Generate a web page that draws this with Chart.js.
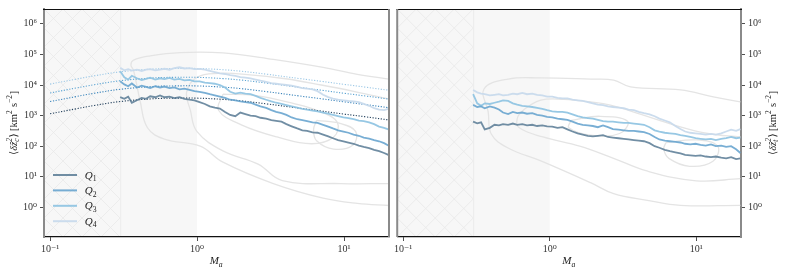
<!DOCTYPE html>
<html>
<head>
<meta charset="utf-8">
<script src="https://cdn.jsdelivr.net/npm/chart.js@4"></script>
<style>
  html, body { margin: 0; padding: 0; background: #fff; }
  #wrap { position: relative; width: 785px; height: 274px; }
  canvas { position: absolute; top: 0; }
  #c1 { left: 0; }
  #c2 { left: 392px; }
</style>
</head>
<body>
<div id="wrap">
  <canvas id="c1" width="392" height="274"></canvas>
  <canvas id="c2" width="393" height="274"></canvas>
</div>
<script>
// -----------------------------
// Data
// -----------------------------
const maValues = [0.30, 0.32, 0.34, 0.36, 0.39, 0.42, 0.45, 0.48, 0.52, 0.56, 0.60, 0.65, 0.70, 0.76, 0.82, 0.89, 0.96, 1.04, 1.13, 1.22, 1.32, 1.43, 1.55, 1.68, 1.82, 1.97, 2.13, 2.31, 2.5, 2.7, 2.95, 3.2, 3.45, 3.75, 4.05, 4.4, 4.8, 5.2, 5.6, 6.1, 6.6, 7.2, 7.8, 8.4, 9.1, 9.9, 10.7, 11.6, 12.6, 13.6, 14.8, 16.0, 17.3, 18.7, 20.0];

// left panel, <dz_c^2> running medians per quartile
const leftQ1 = [4000, 3550, 4170, 2630, 3160, 3800, 3550, 4270, 3980, 4570, 3980, 4170, 3720, 3980, 3550, 3310, 3160, 2750, 2400, 2000, 1820, 1700, 1320, 1050, 955, 1260, 1120, 1000, 955, 850, 794, 708, 676, 631, 525, 447, 380, 331, 316, 282, 275, 240, 209, 182, 158, 145, 132, 120, 105, 95, 87, 76, 69, 60, 52];
const leftQ2 = [13200, 10500, 9100, 11200, 8300, 9500, 8700, 7900, 9100, 8300, 8900, 7900, 8300, 7200, 7600, 6900, 6300, 6000, 5500, 5000, 4600, 4200, 3800, 3300, 3160, 2900, 2750, 2630, 2290, 2000, 1780, 1510, 1320, 1200, 1050, 870, 760, 710, 660, 600, 575, 500, 437, 380, 331, 302, 275, 240, 219, 191, 178, 158, 145, 126, 105];
const leftQ3 = [28200, 17800, 15100, 20000, 16600, 14500, 15800, 17400, 15100, 16600, 15500, 17000, 15100, 15800, 14100, 14800, 13200, 13200, 12000, 11500, 11000, 10000, 8300, 6000, 5200, 5600, 5200, 5000, 4400, 3800, 3300, 2900, 2630, 2400, 2190, 2000, 1820, 1660, 1580, 1450, 1380, 1260, 1150, 1050, 955, 870, 830, 760, 690, 660, 600, 525, 437, 398, 355];
const leftQ4 = [36300, 30200, 33100, 29500, 31600, 28800, 31600, 33100, 30200, 31600, 33900, 31600, 35500, 38000, 34700, 35500, 33100, 33900, 31600, 28800, 26300, 24000, 22900, 20900, 20000, 18200, 17400, 16600, 15100, 13800, 12600, 11500, 11000, 10500, 10000, 9500, 8700, 7900, 7600, 7200, 6300, 4800, 4000, 3600, 3300, 3160, 3000, 2900, 2750, 2400, 2090, 1740, 1580, 1510, 1660];

// right panel, <dz_t^2> running medians per quartile
const rightQ1 = [631, 562, 603, 355, 398, 501, 479, 525, 501, 550, 501, 525, 479, 501, 457, 479, 447, 437, 398, 417, 355, 302, 263, 240, 219, 209, 219, 229, 200, 191, 182, 174, 166, 158, 151, 145, 126, 100, 89, 76, 69, 63, 58, 52, 50, 48, 50, 46, 44, 46, 42, 40, 44, 38, 40];
const rightQ2 = [2240, 1910, 2000, 1740, 2000, 1820, 1580, 1260, 1120, 1320, 1200, 1260, 1150, 1200, 1050, 1000, 912, 870, 794, 759, 724, 631, 550, 501, 479, 457, 417, 479, 417, 363, 347, 331, 316, 316, 302, 288, 251, 200, 166, 151, 145, 138, 132, 120, 115, 120, 110, 105, 115, 100, 105, 95, 100, 79, 60];
const rightQ3 = [5000, 2510, 2090, 2510, 2400, 2630, 2880, 3160, 3020, 2510, 2290, 2090, 2000, 1910, 1780, 1660, 1510, 1380, 1320, 1320, 1260, 1100, 955, 870, 832, 794, 724, 661, 631, 631, 603, 575, 575, 550, 525, 501, 417, 331, 302, 275, 263, 251, 229, 219, 200, 182, 174, 166, 174, 158, 174, 182, 200, 182, 191];
const rightQ4 = [6900, 5750, 5250, 5000, 4570, 4790, 5000, 4570, 4790, 5250, 5000, 5500, 5000, 5250, 4790, 4570, 4170, 4170, 3800, 3630, 3630, 3310, 3160, 3020, 2750, 2510, 2290, 2190, 2000, 1910, 1820, 1740, 1580, 1510, 1320, 1200, 1100, 955, 794, 692, 603, 457, 363, 302, 275, 263, 251, 240, 251, 240, 263, 302, 347, 316, 363];

// dotted model curves (left panel only)
const modelMa = [0.1, 0.15, 0.2, 0.3, 0.5, 0.7, 1, 1.5, 2, 3, 5, 7, 10, 14, 20];
const modelQ1 = [1150, 1660, 2140, 2880, 3550, 3720, 3720, 3390, 3020, 2400, 1740, 1410, 1120, 912, 724];
const modelQ2 = [2880, 4170, 5370, 7240, 8910, 9330, 9330, 8510, 7590, 6030, 4370, 3550, 2820, 2290, 1820];
const modelQ3 = [5500, 7940, 10200, 13800, 17000, 17800, 17800, 16200, 14500, 11500, 8320, 6760, 5370, 4370, 3470];
const modelQ4 = [10700, 15500, 20000, 26900, 33100, 34700, 34700, 31600, 28200, 22400, 16200, 13200, 10500, 8510, 6760];

// density contours, [M_a, value] pairs
const leftContourOuter = [[20.2, 15500], [12.3, 22400], [7.2, 38000], [3.3, 69000], [1.5, 112000], [0.77, 115000], [0.48, 90000], [0.37, 65000], [0.355, 45000], [0.37, 30000], [0.41, 3000], [0.46, 400], [0.6, 170], [1.05, 100], [1.5, 30], [3.3, 6], [7.2, 2], [12.3, 1.35], [20.2, 1.15]];
const leftContourMid = [[20.2, 3500], [12, 6000], [7, 10000], [4, 16000], [2.2, 22000], [1.4, 24000], [1.0, 18000], [0.85, 6000], [0.9, 1500], [1.0, 300], [1.5, 70], [2.6, 26], [3.8, 7.5], [9.5, 6], [20.2, 6]];
const leftContourInner = [[1.5, 5000], [2.5, 4500], [4.5, 2500], [7, 1300], [9, 600], [8.5, 200], [6, 120], [3.5, 200], [2.0, 500], [1.4, 1500], [1.5, 5000]];
const leftContourCore = [[6.5, 700], [9.5, 550], [12, 300], [11.5, 110], [8.5, 80], [6.5, 150], [6.2, 350], [6.5, 700]];

const rightContourOuter = [[20, 2800], [13.1, 4100], [7.8, 6900], [3.56, 8700], [2.73, 14500], [1.9, 15600], [0.87, 17000], [0.52, 15600], [0.356, 7400], [0.38, 1350], [0.4, 245], [0.52, 87], [0.87, 33], [1.9, 6.4], [2.73, 2.8], [4.64, 1.7], [7.8, 1.16], [20, 1.16]];
const rightContourMid = [[20, 200], [12, 260], [7, 500], [4.2, 1100], [2.6, 2200], [1.9, 2800], [1.25, 3400], [0.87, 3200], [0.66, 1500], [0.6, 800], [0.62, 400], [0.9, 200], [1.6, 100], [2.7, 41], [4.6, 15.5], [10, 7.4], [20, 8.7]];
const rightContourInner = [[1.4, 700], [2.2, 950], [3.4, 650], [3.0, 260], [1.9, 230], [1.35, 400], [1.4, 700]];
const rightContourCore = [[6.2, 130], [10, 160], [14, 100], [13, 32], [9, 22], [6.5, 40], [6.0, 80], [6.2, 130]];

// axes
const xTickVals = [0.1, 1, 10];
const xTickText = ["10\u207B\u00B9", "10\u2070", "10\u00B9"];
const yTickVals = [1, 10, 100, 1000, 10000, 100000, 1000000];
const yTickText = ["10\u2070", "10\u00B9", "10\u00B2", "10\u00B3", "10\u2074", "10\u2075", "10\u2076"];
const quartileLabels = ["1", "2", "3", "4"];
const hatchEdge = 0.3;
const shadeEdge = 1.0;

// -----------------------------
// Styles
// -----------------------------
const SERIF = '"Liberation Serif", "DejaVu Serif", serif';
const X_MIN = 0.091, X_MAX = 20.2;
const Y_MIN = 0.1076, Y_MAX = 3.05e6;
const lineColors = ["rgba(88,122,148,0.85)", "rgba(96,160,204,0.85)", "rgba(140,194,225,0.9)", "rgba(200,218,236,0.95)"];
const modelColors = ["#23405c", "#3a84bb", "#5ea5d3", "#9cc8e6"];
const CONTOUR = "#e4e4e4";

// -----------------------------
// Helpers
// -----------------------------
const pts = (xs, ys) => xs.map((x, i) => ({ x: x, y: ys[i] }));
const pairs = arr => arr.map(p => ({ x: p[0], y: p[1] }));

function drawRich(ctx, parts, cx, baseY, size) {
  const small = size * 0.7;
  const font = (s, it) => (it ? "italic " : "") + s + "px " + SERIF;
  const widths = parts.map(p => {
    if (p.t !== undefined) { ctx.font = font(size, p.it); return ctx.measureText(p.t).width; }
    ctx.font = font(small, p.it);
    const a = p.sup ? ctx.measureText(p.sup).width : 0;
    const b = p.sub ? ctx.measureText(p.sub).width : 0;
    return Math.max(a, b) + 0.6;
  });
  let x = cx - widths.reduce((a, b) => a + b, 0) / 2;
  ctx.textAlign = "left";
  ctx.textBaseline = "alphabetic";
  parts.forEach((p, i) => {
    if (p.t !== undefined) {
      ctx.font = font(size, p.it);
      ctx.fillText(p.t, x, baseY);
    } else {
      ctx.font = font(small, p.it);
      if (p.sup) ctx.fillText(p.sup, x, baseY - size * 0.4);
      if (p.sub) ctx.fillText(p.sub, x, baseY + size * 0.25);
    }
    x += widths[i];
  });
}

// shading, frame, titles and legend
const decor = {
  id: "decor",
  beforeDraw(chart, args, opts) {
    const { ctx, chartArea: a, scales: { x } } = chart;
    const xh = x.getPixelForValue(hatchEdge);
    const xs = x.getPixelForValue(shadeEdge);
    const h = a.bottom - a.top;
    ctx.save();
    ctx.fillStyle = "#f7f7f7";
    ctx.fillRect(a.left, a.top, xs - a.left, h);
    ctx.beginPath();
    ctx.rect(a.left, a.top, xh - a.left, h);
    ctx.clip();
    ctx.strokeStyle = "#e8e8e8";
    ctx.lineWidth = 0.8;
    for (let s = a.left - h; s < xh + h; s += 19) {
      ctx.beginPath(); ctx.moveTo(s, a.top); ctx.lineTo(s + h, a.bottom); ctx.stroke();
      ctx.beginPath(); ctx.moveTo(s + h, a.top); ctx.lineTo(s, a.bottom); ctx.stroke();
    }
    ctx.restore();
    ctx.save();
    ctx.strokeStyle = "#ececec";
    ctx.lineWidth = 1;
    ctx.beginPath(); ctx.moveTo(xh + 0.5, a.top); ctx.lineTo(xh + 0.5, a.bottom); ctx.stroke();
    ctx.restore();
  },
  afterDraw(chart, args, opts) {
    const { ctx, chartArea: a } = chart;
    ctx.save();
    // top spine
    ctx.strokeStyle = "#111";
    ctx.lineWidth = 1;
    ctx.beginPath(); ctx.moveTo(a.left - 1, a.top + 0.5); ctx.lineTo(a.right + 1, a.top + 0.5); ctx.stroke();
    // side spine without ticks
    ctx.strokeStyle = "#8a8a8a";
    ctx.lineWidth = 2;
    const sx = opts.side === "left" ? a.right : a.left;
    ctx.beginPath(); ctx.moveTo(sx, a.top); ctx.lineTo(sx, a.bottom); ctx.stroke();
    ctx.fillStyle = "#222";
    // x title
    drawRich(ctx, [{ t: "M", it: true }, { sub: "a", it: true }], (a.left + a.right) / 2, 264, 11);
    // y title
    ctx.save();
    ctx.translate(opts.titleX, (a.top + a.bottom) / 2);
    ctx.rotate(-Math.PI / 2);
    drawRich(ctx, [{ t: "\u27E8" }, { t: "\u03B4\u1E91", it: true }, { sup: "2", sub: opts.sub, it: true },
      { t: "\u27E9 [km" }, { sup: "2" }, { t: " s" }, { sup: "\u22122" }, { t: "]" }], 0, 3.5, 10.5);
    ctx.restore();
    // legend
    if (opts.legend) {
      quartileLabels.forEach((q, i) => {
        const y = a.bottom - 62 + i * 15.4;
        ctx.strokeStyle = lineColors[i];
        ctx.lineWidth = 2;
        ctx.beginPath(); ctx.moveTo(a.left + 9, y); ctx.lineTo(a.left + 33, y); ctx.stroke();
        ctx.fillStyle = "#222";
        ctx.save();
        ctx.translate(a.left + 47, y + 3.5);
        drawRich(ctx, [{ t: "Q", it: true }, { sub: q }], 0, 0, 11);
        ctx.restore();
      });
    }
    ctx.restore();
  }
};

function makeScales(side) {
  return {
    x: {
      type: "logarithmic", min: X_MIN, max: X_MAX,
      afterBuildTicks: s => { s.ticks = xTickVals.map(v => ({ value: v })); },
      afterFit: s => { s.height = 37; },
      ticks: { callback: (v, i) => xTickText[i], font: { family: SERIF, size: 10 }, color: "#333", padding: 2, maxRotation: 0, autoSkip: false },
      grid: { drawOnChartArea: false, tickLength: 4, tickColor: "#222", tickWidth: 0.8 },
      border: { color: "#111", width: 1.2 }
    },
    y: {
      type: "logarithmic", position: side, min: Y_MIN, max: Y_MAX,
      afterBuildTicks: s => { s.ticks = yTickVals.map(v => ({ value: v })); },
      afterFit: s => { s.width = 44; },
      ticks: { callback: (v, i) => yTickText[i], font: { family: SERIF, size: 10 }, color: "#333", padding: 3, autoSkip: false },
      grid: { drawOnChartArea: false, tickLength: 4, tickColor: "#222", tickWidth: 0.8 },
      border: { color: "#8a8a8a", width: 2 }
    }
  };
}

function contourSets(list) {
  return list.map(c => ({ data: pairs(c), borderColor: CONTOUR, borderWidth: 1.3, pointRadius: 0, showLine: true, tension: 0.4, order: 30 }));
}
function medianSets(list) {
  return list.map((s, i) => ({ data: pts(maValues, s), borderColor: lineColors[i], borderWidth: 1.8, pointRadius: 0, showLine: true, tension: 0, order: 10 + i }));
}
function modelSets(list) {
  return list.map((s, i) => ({ data: pts(modelMa, s), borderColor: modelColors[i], borderWidth: 1.1, borderDash: [1.2, 1.6], pointRadius: 0, showLine: true, tension: 0.4, order: 20 }));
}

function makeChart(id, datasets, side, padding, decorOpts) {
  return new Chart(document.getElementById(id), {
    type: "scatter",
    data: { datasets: datasets },
    options: {
      responsive: false,
      animation: false,
      events: [],
      layout: { padding: padding, autoPadding: false },
      scales: makeScales(side),
      plugins: { legend: { display: false }, tooltip: { enabled: false }, decor: decorOpts }
    },
    plugins: [decor]
  });
}

// -----------------------------
// Charts
// -----------------------------
makeChart("c1",
  [].concat(
    contourSets([leftContourOuter, leftContourMid, leftContourInner, leftContourCore]),
    modelSets([modelQ1, modelQ2, modelQ3, modelQ4]),
    medianSets([leftQ1, leftQ2, leftQ3, leftQ4])
  ),
  "left", { left: 0, right: 3, top: 6, bottom: 0 },
  { side: "left", titleX: 13, sub: "c", legend: true });

makeChart("c2",
  [].concat(
    contourSets([rightContourOuter, rightContourMid, rightContourInner, rightContourCore]),
    medianSets([rightQ1, rightQ2, rightQ3, rightQ4])
  ),
  "right", { left: 4, right: 0, top: 6, bottom: 0 },
  { side: "right", titleX: 380, sub: "t", legend: false });
</script>
</body>
</html>
